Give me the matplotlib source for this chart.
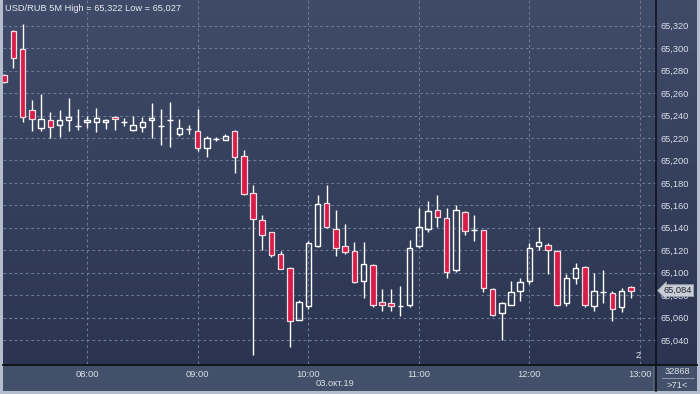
import numpy as np
import pandas as pd
import matplotlib
matplotlib.use("Agg")
import matplotlib.pyplot as plt
import matplotlib.dates as mdates
import matplotlib.transforms as mtransforms
from matplotlib.colors import LinearSegmentedColormap

plt.rcParams['font.family'] = ['Liberation Sans', 'DejaVu Sans']

# 5 minute bars, USD/RUB, 03.10.2019
times = pd.date_range("2019-10-03 07:15", "2019-10-03 12:55", freq="5min")
opens = [65.276, 65.315, 65.299, 65.245, 65.229, 65.236, 65.232, 65.236, 65.231, 65.234,
         65.234, 65.234, 65.239, 65.234, 65.227, 65.230, 65.236, 65.231, 65.236, 65.224,
         65.228, 65.226, 65.211, 65.219, 65.218, 65.226, 65.204, 65.171, 65.147, 65.136,
         65.117, 65.104, 65.058, 65.070, 65.124, 65.162, 65.139, 65.124, 65.119, 65.093,
         65.107, 65.074, 65.073, 65.070, 65.071, 65.124, 65.139, 65.156, 65.149, 65.102,
         65.154, 65.138, 65.138, 65.085, 65.064, 65.071, 65.084, 65.093, 65.124, 65.125,
         65.119, 65.073, 65.095, 65.105, 65.070, 65.083, 65.082, 65.069, 65.087]
highs = [65.277, 65.316, 65.322, 65.254, 65.259, 65.243, 65.245, 65.256, 65.246, 65.240,
         65.247, 65.237, 65.240, 65.238, 65.240, 65.239, 65.251, 65.246, 65.252, 65.237,
         65.232, 65.246, 65.222, 65.221, 65.224, 65.227, 65.209, 65.178, 65.151, 65.136,
         65.119, 65.105, 65.076, 65.128, 65.169, 65.178, 65.156, 65.143, 65.127, 65.127,
         65.108, 65.085, 65.085, 65.088, 65.129, 65.158, 65.164, 65.169, 65.158, 65.160,
         65.155, 65.151, 65.138, 65.086, 65.074, 65.093, 65.095, 65.126, 65.141, 65.126,
         65.120, 65.099, 65.109, 65.106, 65.100, 65.102, 65.084, 65.086, 65.088]
lows = [65.269, 65.282, 65.234, 65.226, 65.226, 65.220, 65.221, 65.226, 65.227, 65.229,
        65.225, 65.228, 65.227, 65.231, 65.226, 65.225, 65.220, 65.214, 65.212, 65.222,
        65.224, 65.208, 65.203, 65.217, 65.218, 65.189, 65.169, 65.027, 65.120, 65.114,
        65.103, 65.034, 65.058, 65.068, 65.123, 65.140, 65.115, 65.117, 65.091, 65.077,
        65.069, 65.066, 65.066, 65.061, 65.069, 65.122, 65.136, 65.141, 65.095, 65.101,
        65.134, 65.128, 65.083, 65.061, 65.040, 65.071, 65.075, 65.090, 65.120, 65.099,
        65.070, 65.070, 65.090, 65.069, 65.066, 65.073, 65.057, 65.065, 65.077]
closes = [65.270, 65.291, 65.239, 65.237, 65.237, 65.230, 65.236, 65.239, 65.231, 65.236,
          65.238, 65.236, 65.237, 65.234, 65.232, 65.234, 65.238, 65.231, 65.236, 65.229,
          65.228, 65.211, 65.220, 65.219, 65.222, 65.203, 65.170, 65.148, 65.134, 65.116,
          65.103, 65.057, 65.074, 65.126, 65.161, 65.141, 65.122, 65.118, 65.092, 65.108,
          65.071, 65.071, 65.070, 65.070, 65.122, 65.141, 65.155, 65.150, 65.101, 65.156,
          65.137, 65.138, 65.086, 65.062, 65.073, 65.083, 65.092, 65.122, 65.127, 65.120,
          65.071, 65.095, 65.104, 65.071, 65.084, 65.083, 65.068, 65.084, 65.084]

price_ticks = [65.040, 65.060, 65.080, 65.100, 65.120, 65.140, 65.160, 65.180,
               65.200, 65.220, 65.240, 65.260, 65.280, 65.300, 65.320]
hour_ticks = ["08:00", "09:00", "10:00", "11:00", "12:00", "13:00"]
last_price = 65.084

W, H = 700, 394
RED = '#d81c47'
TXT = '#d9dfe8'

fig = plt.figure(figsize=(7, 3.94), dpi=100, facecolor='#b3bdcb')

def fx(px):
    return px / W

def fy(py):
    return 1 - py / H

# background gradient (plot area + price panel)
bg = fig.add_axes([fx(3), fy(364), fx(697 - 3), fy(0) - fy(364)])
cmap = LinearSegmentedColormap.from_list('bg', ['#3f4b68', '#2b3552'])
bg.imshow(np.linspace(0, 1, 256).reshape(-1, 1), cmap=cmap, aspect='auto',
          extent=[0, 1, 0, 1])
bg.set_axis_off()

# time axis strip
strip = fig.add_axes([fx(3), fy(391), fx(697 - 3), fy(364) - fy(391)])
strip.set_facecolor('#435069')
strip.set_xticks([])
strip.set_yticks([])
for s in strip.spines.values():
    s.set_visible(False)

ax = fig.add_axes([fx(3), fy(364), fx(656 - 3), fy(0) - fy(364)])
ax.set_facecolor('none')

x = mdates.date2num(times)
o = np.array(opens)
h = np.array(highs)
l = np.array(lows)
c = np.array(closes)
top = np.maximum(o, c)
bot = np.minimum(o, c)
down = c < o
width = 3 / 1440

ax.vlines(x, top, h, color='white', lw=1, zorder=3)
ax.vlines(x, l, bot, color='white', lw=1, zorder=3)
ax.bar(x[down], (top - bot)[down], bottom=bot[down], width=width,
       color=RED, edgecolor='#f4dbe2', lw=0.9, zorder=4)
ax.bar(x[~down], (top - bot)[~down], bottom=bot[~down], width=width,
       color='none', edgecolor='white', lw=1, zorder=4)

ax.set_xlim(times[0] - pd.Timedelta(seconds=40), pd.Timestamp("2019-10-03 13:08:40"))
ax.set_ylim(65.0186, 65.343)

tick_times = [pd.Timestamp("2019-10-03 " + t) for t in hour_ticks]
ax.set_xticks(mdates.date2num(tick_times))
ax.set_xticklabels(hour_ticks)
ax.set_yticks(price_ticks)
ax.set_yticklabels([f"{v:.3f}".replace('.', ',') for v in price_ticks])
ax.yaxis.tick_right()
ax.tick_params(axis='both', length=0, labelsize=6.7, labelcolor=TXT)
ax.tick_params(axis='y', pad=3)
ax.tick_params(axis='x', pad=4)
ax.grid(True, color='#6b7b97', lw=0.8, linestyle=(0, (2.5, 2.5)))
ax.set_axisbelow(True)
for s in ax.spines.values():
    s.set_visible(False)

ax.text(0.003, 0.99, "USD/RUB 5M High = 65,322 Low = 65,027", transform=ax.transAxes,
        ha='left', va='top', fontsize=6.7, color='#e6eaf0')
ax.text(0.968, 0.012, "2", transform=ax.transAxes, ha='left', va='bottom',
        fontsize=6.7, color='#e6eaf0')

# last price marker
trans = mtransforms.blended_transform_factory(ax.transAxes, ax.transData)
ax.text(1.012, last_price, f"{last_price:.3f}".replace('.', ','), transform=trans,
        ha='left', va='center', fontsize=6.7, color='#1c2230', zorder=10, clip_on=False,
        bbox=dict(boxstyle='larrow,pad=0.15', fc='#c9ced6', ec='#9aa3b0', lw=0.6))

# separators
fig.add_artist(plt.Line2D([fx(3), fx(697)], [fy(364.5), fy(364.5)], color='#0c0f16', lw=1.3))
fig.add_artist(plt.Line2D([fx(656), fx(656)], [fy(0), fy(391)], color='#0c0f16', lw=1.1))
fig.add_artist(plt.Line2D([fx(653), fx(653)], [fy(366), fy(389)], color='#5c6880', lw=0.8))
fig.add_artist(plt.Line2D([fx(662), fx(694)], [fy(378), fy(378)], color='#8d98aa', lw=0.7))

fig.text(fx(335), fy(383), "03.окт.19", ha='center', va='center', fontsize=6.7, color=TXT)
fig.text(fx(677), fy(371), "32868", ha='center', va='center', fontsize=6.7, color=TXT)
fig.text(fx(677), fy(385), ">71<", ha='center', va='center', fontsize=6.7, color=TXT)

fig.savefig("out.png", dpi=100, facecolor=fig.get_facecolor())
